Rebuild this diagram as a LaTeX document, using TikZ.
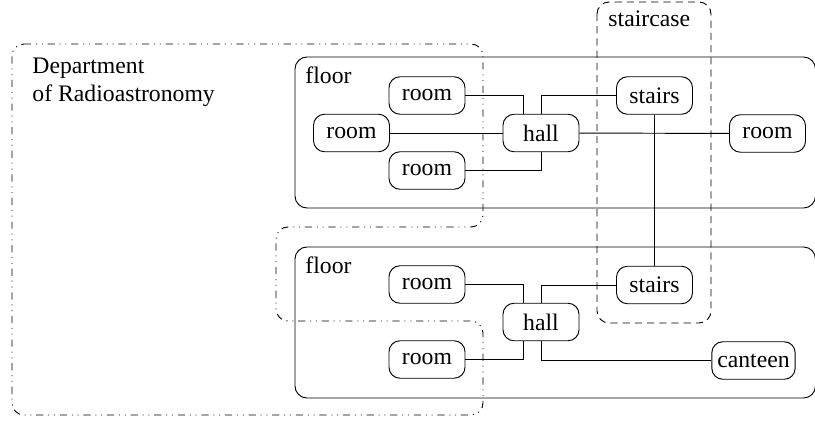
\documentclass[tikz,border=0pt]{standalone}
\usepackage{fontspec}
\setmainfont{Liberation Serif}
\begin{document}
\begin{tikzpicture}[x=1pt,y=-1pt,
  line width=0.95pt,
  every node/.style={font=\fontsize{23.7}{28.4}\selectfont},
  place/.style={draw,rounded corners=11pt,minimum width=76pt,minimum height=37.5pt,inner xsep=5.5pt,inner ysep=0pt},
  label/.style={inner sep=0pt,anchor=base west},
  group/.style={rounded corners=12pt},
  dept/.style={group,dash pattern=on 7.2pt off 4.8pt on 1pt off 4.8pt on 1pt off 4.8pt},
  stair/.style={group,dash pattern=on 7.2pt off 5pt}
]
\useasboundingbox (0,0) rectangle (815,423);
% floors
\draw[group] (295,57) rectangle (815.5,208);
\draw[group] (295,247) rectangle (815.5,398);
\node[label] (fl1) at (305,83) {floor};
\node[label] (fl2) at (305,273) {floor};
% department outline
\draw[dept] (12,44) -- (483,44) -- (483,227) -- (276,227) -- (276,321) -- (483,321) -- (483,415) -- (12,415) -- cycle;
\node[inner sep=0pt,anchor=north west,align=left] (dep) at (32,57.3) {Department\\of Radioastronomy};
% staircase
\draw[stair] (597,2) rectangle (711,323);
\node[label] (sc) at (608,27) {staircase};
% upper floor
\node[place] (ra) at (427,95.5) {room};
\node[place] (rb) at (351.5,133) {room};
\node[place] (rc) at (427,170.5) {room};
\node[place] (h1) at (541,133) {hall};
\node[place] (s1) at (654.5,95.5) {stairs};
\node[place] (rr) at (767.5,133.5) {room};
% lower floor
\node[place] (rd) at (427,284.5) {room};
\node[place] (h2) at (541,322) {hall};
\node[place] (s2) at (654.5,285) {stairs};
\node[place] (re) at (427,359.5) {room};
\node[place] (ct) at (753.5,360.5) {canteen};
% connectors
\draw (ra.east) -| ([xshift=-18pt]h1.north);
\draw (rb) -- (h1);
\draw (rc.east) -| (h1.south);
\draw (h1.north) |- (s1.west);
\draw (h1) -- (rr);
\draw (s1) -- (s2);
\draw (rd.east) -| ([xshift=-18pt]h2.north);
\draw (h2.north) |- (s2.west);
\draw (re.east) -| ([xshift=-18pt]h2.south);
\draw (h2.south) |- (ct.west);
\end{tikzpicture}
\end{document}
